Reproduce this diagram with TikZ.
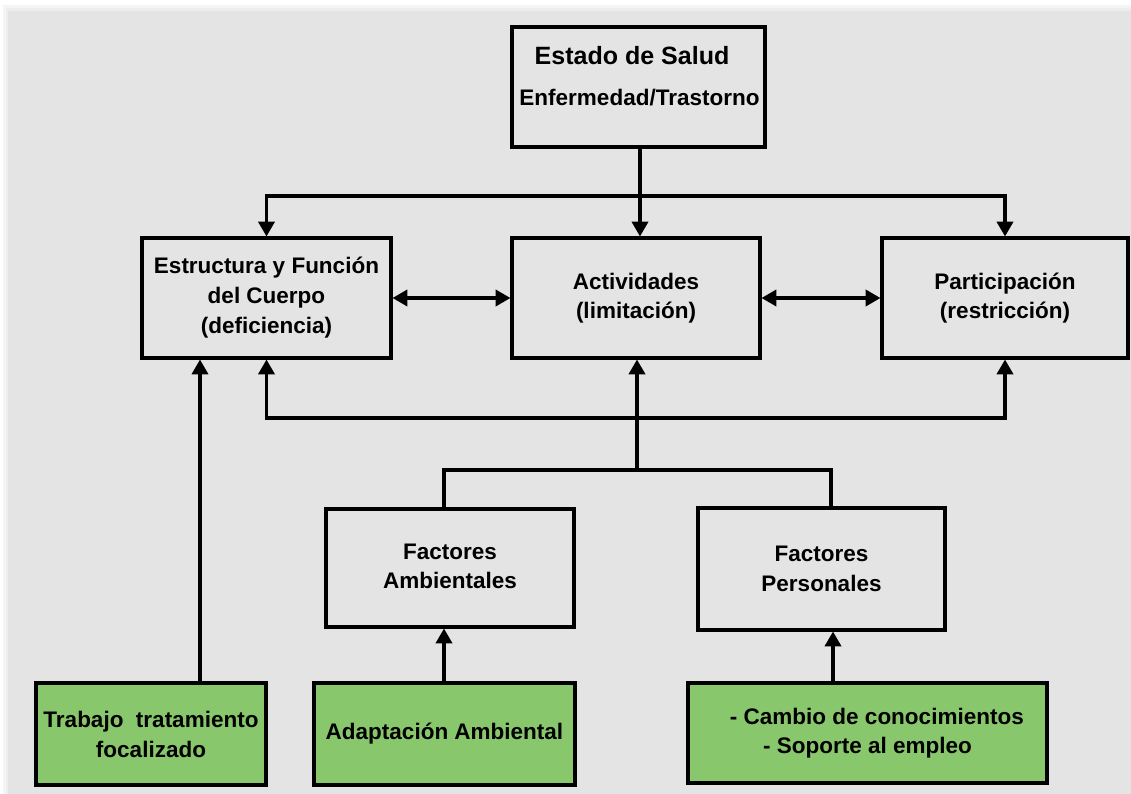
\documentclass[tikz,border=0pt]{standalone}
\usepackage{fontspec}
\setmainfont{Liberation Sans}
\usetikzlibrary{arrows.meta}
\definecolor{bggray}{HTML}{E4E4E4}
\definecolor{boxgreen}{HTML}{88C76B}
\newcommand\pxu{0.025cm}
\begin{document}
\begin{tikzpicture}[x=0.025cm,y=-0.025cm,
  box/.style={draw=black, line width=2.2pt, align=center, inner sep=0pt,
    font=\bfseries\fontsize{16}{21.3}\selectfont},
  greenbox/.style={box, fill=boxgreen},
  txt/.style={align=center, inner sep=0pt, font=\bfseries\fontsize{16}{21.3}\selectfont},
  conn/.style={line width=2.2pt},
  arr/.style={conn, -{Triangle[length=10.5pt,width=11.5pt]}},
  darr/.style={conn, {Triangle[length=10.5pt,width=11.5pt]}-{Triangle[length=10.5pt,width=11.5pt]}}]
% background
\fill[white] (0,0) rectangle (1131,794);
\fill[black!4] (3,5) rectangle (1131,794);
\fill[black!7] (6,8) rectangle (1131,794);
\fill[bggray] (8,11) rectangle (1131,794);
\useasboundingbox (0,0) rectangle (1131,794);

% boxes
\node[box, minimum width={253*\pxu}, minimum height={120*\pxu}] (es) at (638.5,87) {};
\node[txt, font=\bfseries\fontsize{17.8}{21}\selectfont] (est1) at (632,56) {Estado de Salud};
\node[txt] (est2) at (639.5,98) {Enfermedad/Trastorno};

\node[box, minimum width={249*\pxu}, minimum height={120*\pxu}] (ef) at (266.5,298)
  {Estructura y Función\\del Cuerpo\\(deficiencia)};
\node[box, minimum width={248*\pxu}, minimum height={120*\pxu}] (ac) at (636,298)
  {\raisebox{2pt}{\begin{tabular}{@{}c@{}}Actividades\\(limitación)\end{tabular}}};
\node[box, minimum width={246*\pxu}, minimum height={120*\pxu}] (pa) at (1005,298)
  {\raisebox{2pt}{\begin{tabular}{@{}c@{}}Participación\\(restricción)\end{tabular}}};

\node[box, minimum width={248*\pxu}, minimum height={118*\pxu}] (fa) at (450,568)
  {\raisebox{4pt}{\begin{tabular}{@{}c@{}}Factores\\Ambientales\end{tabular}}};
\node[box, minimum width={247*\pxu}, minimum height={122*\pxu}] (fp) at (821.5,569)
  {Factores\\Personales};

\node[greenbox, minimum width={230*\pxu}, minimum height={102*\pxu}] (g1) at (151,734)
  {Trabajo\ \ tratamiento\\focalizado};
\node[greenbox, minimum width={261*\pxu}, minimum height={102*\pxu}] (g2) at (444.5,734)
  {\raisebox{4pt}{Adaptación Ambiental}};
\node[greenbox, minimum width={359*\pxu}, minimum height={100*\pxu}] (g3) at (867.5,733)
  {\raisebox{-4pt}{\begin{tabular}{@{}c@{}}\ \ \ - Cambio de conocimientos\\- Soporte al empleo\end{tabular}}};

% helper coordinates
\coordinate (tb) at (640,196);
\coordinate (bb) at (637,418);
\coordinate (fb) at (637,470);
\coordinate (xfa) at (444,0);
\coordinate (xfp) at (831,0);
\coordinate (xg1) at (200,0);
\coordinate (xg3) at (833,0);

% connectors
\draw[arr] (es.south -| tb) -- (tb |- ac.north);
\draw[arr] (tb) -| (ef.north);
\draw[arr] (tb) -| (pa.north);

\draw[darr] (ef.east) -- (ac.west);
\draw[darr] (ac.east) -- (pa.west);

\draw[arr] (bb) -| (ef.south);
\draw[arr] (bb) -| (pa.south);
\draw[arr] (fb) -- (fb |- ac.south);
\draw[conn] (fb) -| (xfa |- fa.north);
\draw[conn] (fb) -| (xfp |- fp.north);

\draw[arr] (xg1 |- g1.north) -- (xg1 |- ef.south);
\draw[arr] (xfa |- g2.north) -- (xfa |- fa.south);
\draw[arr] (xg3 |- g3.north) -- (xg3 |- fp.south);
\end{tikzpicture}
\end{document}
